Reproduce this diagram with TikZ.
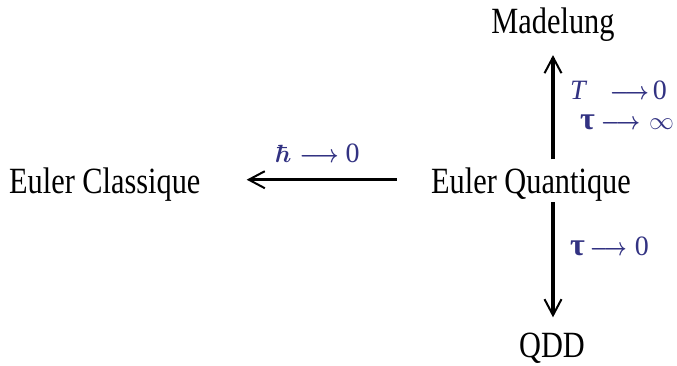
\documentclass[tikz,border=0pt]{standalone}
\usepackage[no-math]{fontspec}
\setmainfont{Liberation Serif}[FakeStretch=0.82]
\newfontfamily\labfont{Liberation Serif}
\usetikzlibrary{arrows.meta}
\definecolor{labblue}{RGB}{50,50,130}
\newcommand{\labarrow}[1]{\scalebox{#1}[1]{\boldmath$\longrightarrow$}}
\begin{document}
\begin{tikzpicture}[x=1pt,y=-1pt,
  term/.style={font=\fontsize{37}{40}\selectfont, inner sep=0pt, anchor=base},
  lab/.style={font=\labfont\fontsize{28}{30}\selectfont, text=labblue, inner sep=0pt, anchor=base west},
  arr/.style={line width=3.4pt, -{Straight Barb[length=16pt,width=17pt,line width=2pt]}}
]
\useasboundingbox (0,0) rectangle (677,365);
\node[term] (mad) at (553,33) {Madelung};
\node[term] (eq) at (531,193) {Euler Quantique};
\node[term, anchor=base west] (ec) at (9,193) {Euler Classique};
\node[term] (qdd) at (552,357) {QDD};

\draw[arr, shorten <=7.7pt, shorten >=13.9pt] (eq.north -| mad.south) -- (mad.south);
\draw[arr, shorten <=1pt, shorten >=15pt] (eq.south -| mad.south) -- (qdd.north -| mad.south);
\draw[arr, shorten <=34pt, shorten >=46pt] ([yshift=4.4pt]eq.west) -- ([yshift=4.4pt]ec.east);

\node[lab] (hl) at (275,162) {{\fontsize{33}{34}\selectfont\boldmath$\hbar$}\hspace{8pt}\labarrow{0.85}\hspace{7pt}0};
\node[lab] (tl) at (570,99) {{\itshape T}\hspace{24pt}\labarrow{0.85}\hspace{4pt}0};
\node[lab] (til) at (580,129) {{\bfseries\fontsize{32}{34}\selectfont τ}\hspace{6pt}\labarrow{0.85}\hspace{9pt}$\infty$};
\node[lab] (t0) at (570,255) {{\bfseries\fontsize{32}{34}\selectfont τ}\hspace{5pt}\labarrow{0.8}\hspace{8pt}0};
\end{tikzpicture}
\end{document}
